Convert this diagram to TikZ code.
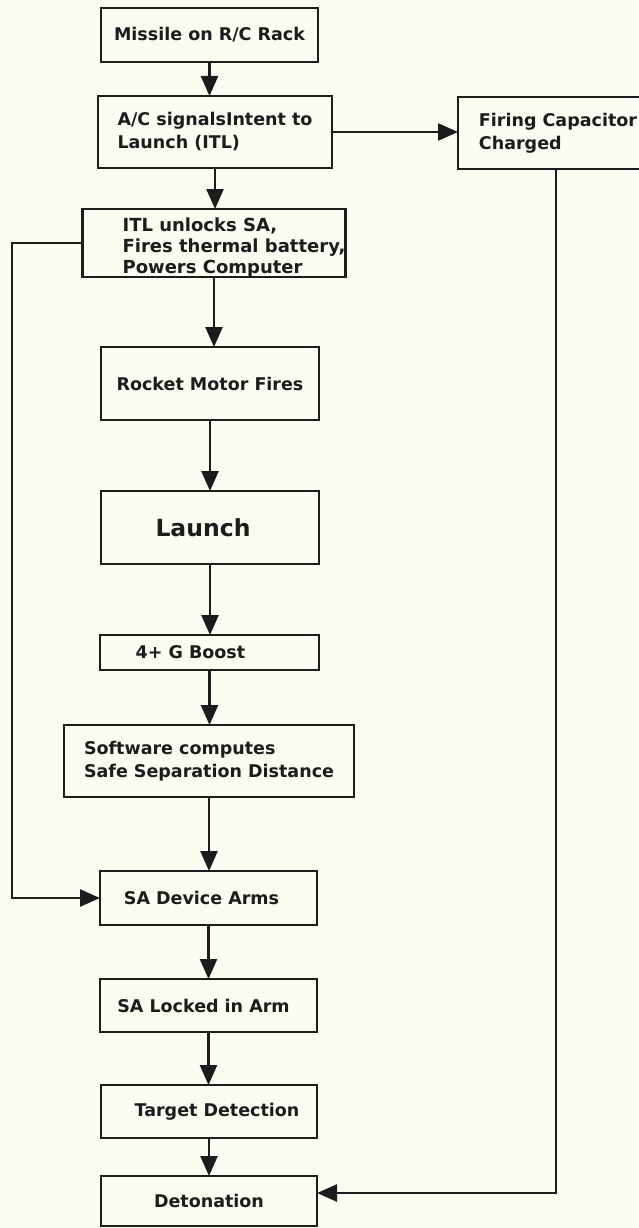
\documentclass[tikz,border=0pt]{standalone}
\usepackage{fontspec}
\setmainfont{DejaVu Sans}
\usetikzlibrary{arrows.meta}
\definecolor{paper}{RGB}{250,251,241}
\definecolor{ink}{RGB}{28,28,28}
\begin{document}
\begin{tikzpicture}[x=1pt,y=-1pt,
	box/.style={draw=ink,line width=2.5pt,inner sep=0pt,outer sep=0pt,align=left,text=ink,
		font=\bfseries\fontsize{17.5}{23}\selectfont},
	arr/.style={draw=ink,line width=2.5pt,-{Triangle[length=20pt,width=17pt]}}]
	\fill[paper] (0,0) rectangle (638,1228);
	\useasboundingbox (0,0) rectangle (638,1228);
	
	\node[box,minimum width=217pt,minimum height=54pt] (rack) at (209.5,35) {Missile on R/C Rack};
	\node[box,minimum width=234pt,minimum height=72pt] (itl) at (215,132) {A/C signalsIntent to\\Launch (ITL)};
	\node[box,minimum width=200pt,minimum height=72pt] (cap) at (558,133) {Firing Capacitor\\Charged};
	\node[box,minimum width=262pt,minimum height=68pt,font=\bfseries\fontsize{18}{21}\selectfont] (unlock) at (214,243)
		{\hspace*{40pt}\raisebox{-5pt}[\height][\depth]{\begin{tabular}{@{}l@{}}ITL unlocks SA,\\Fires thermal battery,\\Powers Computer\end{tabular}}};
	\node[box,minimum width=218pt,minimum height=73pt] (motor) at (210,383.5) {Rocket Motor Fires};
	\node[box,minimum width=218pt,minimum height=73pt,font=\bfseries\fontsize{23.5}{28}\selectfont] (launch) at (210,527.5) {Launch\hspace*{14pt}};
	\node[box,minimum width=219pt,minimum height=35pt] (boost) at (209.5,652.5) {4+ G Boost\hspace*{38pt}};
	\node[box,minimum width=290pt,minimum height=72pt] (soft) at (209,761) {Software computes\\Safe Separation Distance};
	\node[box,minimum width=217pt,minimum height=54pt] (arms) at (208.5,898) {SA Device Arms\hspace*{14pt}};
	\node[box,minimum width=217pt,minimum height=53pt] (locked) at (208.5,1005.5) {SA Locked in Arm\hspace*{10pt}};
	\node[box,minimum width=216pt,minimum height=53pt] (target) at (209,1111.5) {\hspace*{16pt}Target Detection};
	\node[box,minimum width=216pt,minimum height=50pt] (deton) at (209,1201) {Detonation};
	
	% main chain
	\draw[arr] (rack.south) -- (rack.south |- itl.north);
	\draw[arr] (itl.south) -- (itl.south |- unlock.north);
	\draw[arr] (unlock.south) -- (unlock.south |- motor.north);
	\draw[arr] (motor.south) -- (motor.south |- launch.north);
	\draw[arr] (launch.south) -- (launch.south |- boost.north);
	\draw[arr] (boost.south) -- (boost.south |- soft.north);
	\draw[arr] (soft.south) -- (soft.south |- arms.north);
	\draw[arr] (arms.south) -- (arms.south |- locked.north);
	\draw[arr] (locked.south) -- (locked.south |- target.north);
	\draw[arr] (target.south) -- (target.south |- deton.north);
	
	% side paths
	\draw[arr] (itl.east) -- (itl.east -| cap.west);
	\coordinate (loop) at (12,243);
	\draw[arr] (unlock.west) -- (loop) |- (arms.west);
	\coordinate (fire) at (556,1193);
	\draw[arr] (cap.south -| fire) -- (fire) -- (fire -| deton.east);
\end{tikzpicture}
\end{document}
